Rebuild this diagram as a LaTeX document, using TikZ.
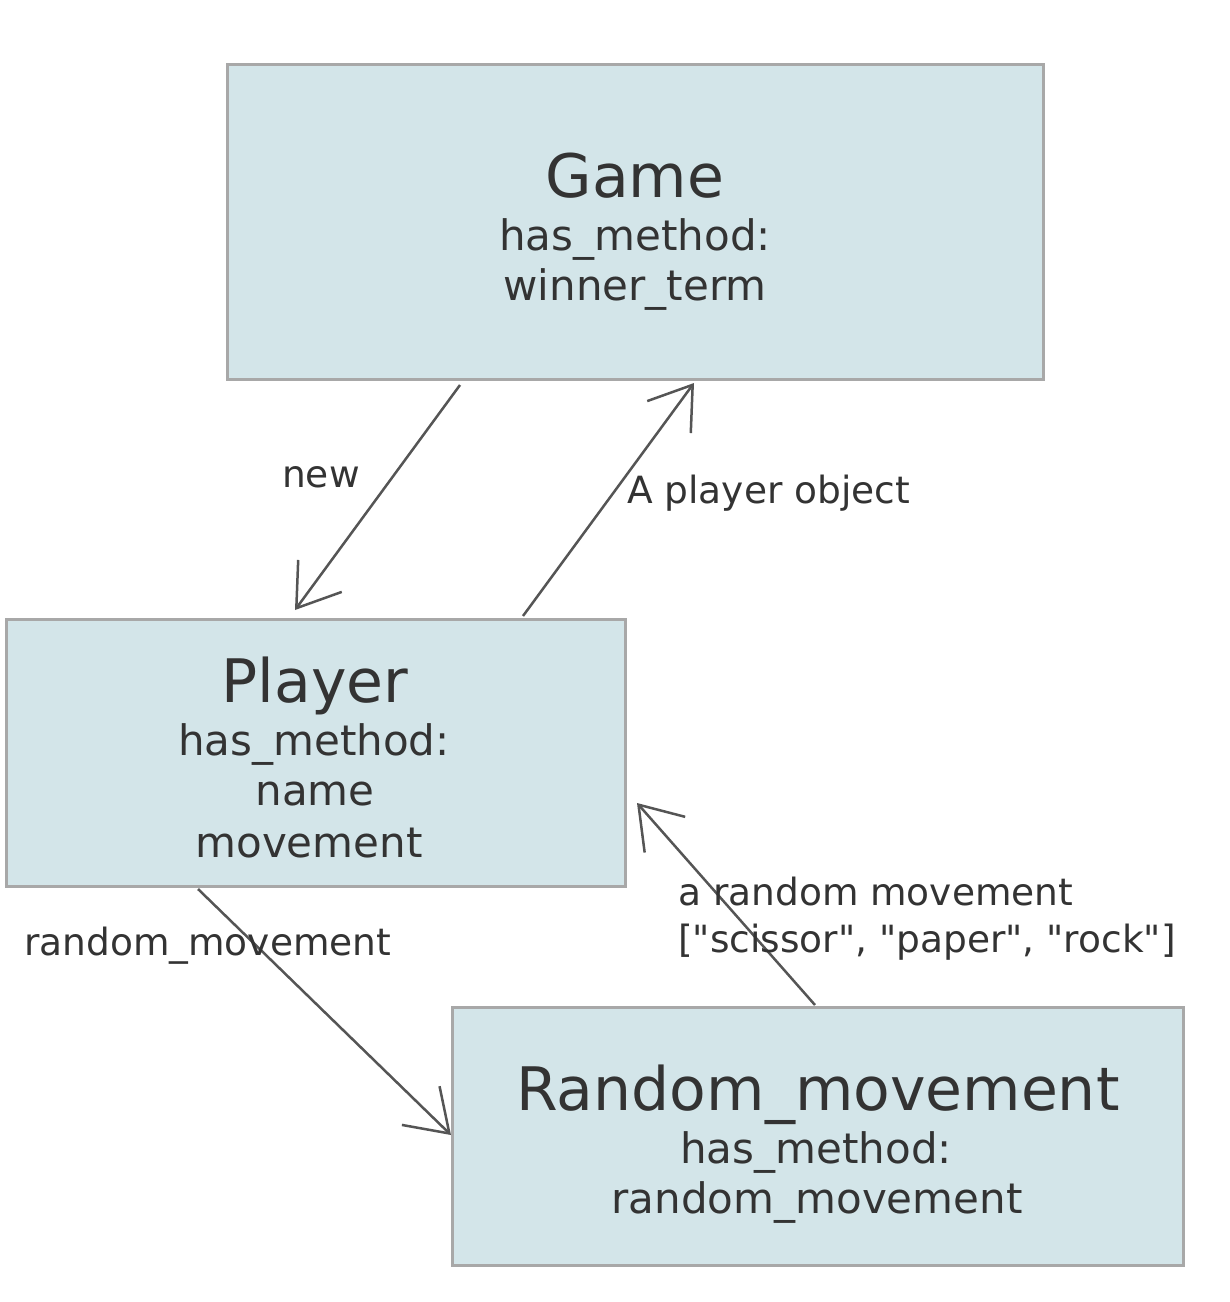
\documentclass[tikz,border=0pt]{standalone}
\usepackage{fontspec}
\setmainfont{DejaVu Sans}
\newfontfamily\rawfont{DejaVu Sans}
\usetikzlibrary{arrows.meta}
\definecolor{boxfill}{HTML}{D3E5E9}
\definecolor{boxline}{HTML}{A8A8A8}
\definecolor{txt}{HTML}{333333}
\definecolor{edge}{HTML}{555555}
\begin{document}
\begin{tikzpicture}[x=1pt,y=-1pt,
  box/.style={draw=boxline, fill=boxfill, line width=3pt, inner sep=0pt, outer sep=0pt},
  title/.style={anchor=base, text=txt, font=\fontsize{60}{60}\selectfont, inner sep=0pt},
  body/.style={anchor=base, text=txt, font=\fontsize{42}{42}\selectfont, inner sep=0pt},
  lbl/.style={anchor=base west, text=txt, font=\fontsize{37.5}{37.5}\selectfont, inner sep=0pt},
  conn/.style={draw=edge, line width=2.5pt, -{Straight Barb[length=40pt,width=54pt]}}]
\useasboundingbox[fill=white] (0,0) rectangle (1230,1302);

% boxes
\node[box, minimum width=816pt, minimum height=315pt] (game) at (635,221.5) {};
\node[box, minimum width=619pt, minimum height=267pt] (player) at (315.5,752.5) {};
\node[box, minimum width=731pt, minimum height=258pt] (rand) at (817.5,1136) {};

% texts
\node[title] (gameT) at (635,197) {Game};
\node[body] (gameM) at (635,250) {has\_method:};
\node[body] (gameW) at (635,300) {winner\_term};

\node[title] (playerT) at (315,702) {Player};
\node[body] (playerM) at (314,755) {has\_method:};
\node[body] (playerN) at (315,805) {name};
\node[body] (playerV) at (309,857) {movement};

\node[title] (randT) at (818,1110) {Random\_movement};
\node[body] (randM) at (816,1163) {has\_method:};
\node[body] (randR) at (817,1213) {random\_movement};

% connector end points
\coordinate (newS) at ([xshift=-175pt,yshift=-6pt]game.south);
\coordinate (newE) at ([xshift=-20.5pt,yshift=9pt]player.north);
\coordinate (objS) at ([xshift=207.5pt,yshift=3pt]player.north);
\coordinate (objE) at ([xshift=59pt,yshift=-4pt]game.south);
\coordinate (rmS) at ([xshift=-117.5pt,yshift=-3pt]player.south);
\coordinate (rmE) at ([xshift=-1pt,yshift=1pt]rand.west);
\coordinate (arS) at ([xshift=-2.5pt,yshift=2pt]rand.north);
\coordinate (arE) at ([xshift=12pt,yshift=-50.5pt]player.east);

\draw[conn] (newS) -- (newE);
\draw[conn] (objS) -- (objE);
\draw[conn] (rmS) -- (rmE);
\draw[conn] (arS) -- (arE);

% labels
\node[lbl] (lnew) at (282,487) {new};
\node[lbl] (lobj) at (627,503) {A player object};
\node[lbl] (lrm) at (24,955) {random\_movement};
\node[lbl] (lar1) at (678,905) {a random movement};
\node[lbl] (lar2) at (678,952) {\rawfont ["scissor", "paper", "rock"]};
\end{tikzpicture}
\end{document}
